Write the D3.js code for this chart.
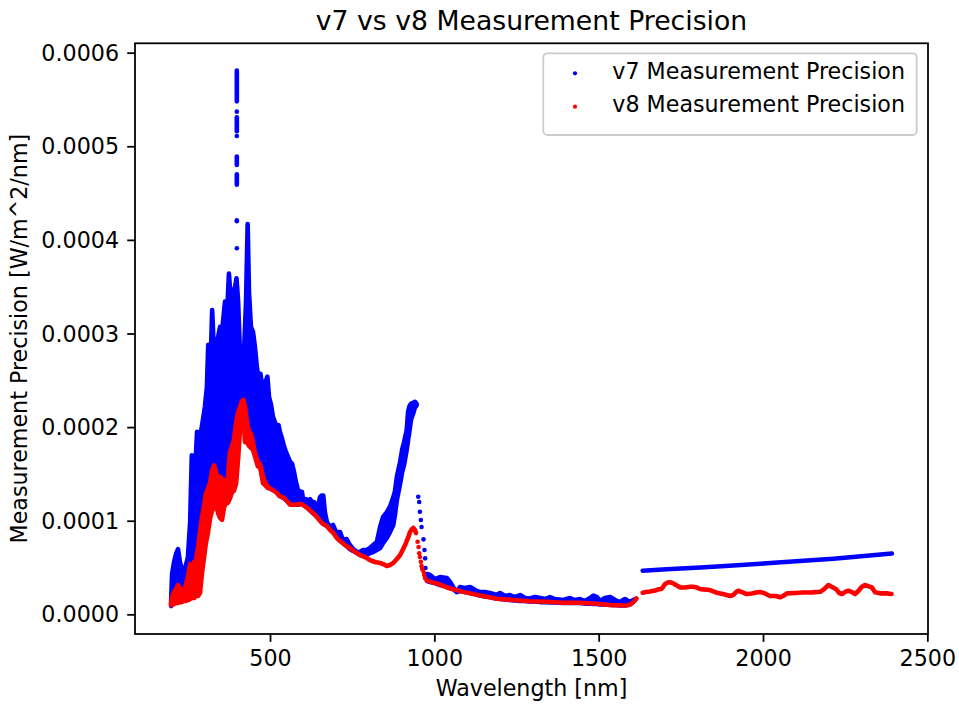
<!DOCTYPE html>
<html>
<head>
<meta charset="utf-8">
<script src="https://cdn.jsdelivr.net/npm/d3@7"></script>
<style>
  body { margin: 0; background: #fff; }
  text { font-family: "DejaVu Sans", sans-serif; fill: #000; }
</style>
</head>
<body>
<div id="chart-area"></div>
<script>
// values below are in units of 1e-5 W/m^2/nm
const unit = 1e-5;

// v7, UV-VIS part: per wavelength, lowest and highest value of the dense point cloud
const v7Wl1 = [199,202,208,214,220,226,232,238,244,250,257,262,266,272,278,284,290,296,302,308,
  312,318,324,330,336,342,348,354,358,363,369,375,381,387,394,398,403,409,415,421,
  427,432,436,442,448,454,460,467,471,476,482,488,492,497,503,509,515,521,526,530,
  537,543,549,555,561,567,573,579,585,591,597,603,610,616,622,628,634,642,646,652,
  657,662,667,673,683,692,701,713,722,733,743,753,765,774,783,794,804,814,825,835,
  844,855,865,875,880,886,896,902,908,916,920,924,929,936,941,946];
const v7Hi1 = [1.31,4.31,5.59,6.44,6.97,5.59,4.73,4.52,5.27,6.02,9.86,17.0,12.0,15.2,19.5,17.9,19.5,20.8,22.2,24.3,
  28.8,25.4,32.5,27.5,28.6,29.6,30.7,30.2,31.6,33.4,31.8,36.4,33.4,34.4,35.0,35.9,33.4,27.5,26.9,28.0,
  33.4,41.7,34.4,30.7,30.2,28.6,26.4,24.8,25.7,24.3,24.8,25.0,25.4,23.2,22.4,21.1,20.5,20.0,20.2,19.5,
  18.7,17.9,17.3,16.8,16.3,16.1,15.2,14.1,13.3,13.1,13.1,11.7,12.3,12.0,12.3,12.0,12.0,11.4,11.5,12.5,
  12.7,12.7,10.9,9.86,9.33,9.54,8.79,8.79,7.94,8.05,7.40,6.98,6.66,6.66,6.87,6.87,7.08,7.40,7.72,9.33,
  10.4,10.9,11.5,12.5,13.1,14.7,16.3,17.6,18.4,19.7,21.6,22.2,22.5,22.6,22.7,22.5];
const v7Lo1 = [0.89,1.10,1.96,2.38,2.81,2.60,2.28,2.38,2.81,3.66,5.16,4.95,5.16,5.59,5.59,6.66,8.15,10.07,11.36,12.75,
  13.07,13.82,15.2,15.6,15.1,14.35,14.6,14.35,14.2,13.9,14.1,15.4,17.0,17.8,19.0,20.8,21.5,22.1,22.6,22.6,
  21.6,20.4,19.4,19.0,18.3,17.3,16.5,16.0,15.7,14.8,14.2,13.8,13.6,13.5,13.4,13.3,13.2,13.1,12.85,12.75,
  12.5,12.4,12.2,12.0,11.8,11.7,11.7,11.7,11.7,11.8,11.8,11.7,11.5,11.3,11.1,10.9,10.7,10.5,10.3,10.1,
  9.86,9.75,9.65,9.43,9.11,8.79,8.37,7.94,7.62,7.30,6.98,6.76,6.55,6.34,6.23,6.34,6.55,6.66,6.87,7.08,
  7.62,8.15,8.79,9.54,10.6,12.2,14.0,15.2,16.0,17.6,18.6,19.5,20.8,21.5,22.1,22.3];

// v7 spike near 399 nm (broken column of points)
const v7SpikeWl = [399,399,399,399,399,399,399,399];
const v7SpikeLo = [54.8,53.7,51.6,51.1,48.0,45.9,42.0,39.1];
const v7SpikeHi = [58.1,53.7,53.1,51.1,48.9,47.0,42.1,39.1];

// v7 single points on the fall after the 930 nm peak
const v7DotWl = [951,954,956,959,961,967,970,972,973,975];
const v7DotVal = [12.56,12.0,10.96,10.07,9.33,8.01,6.87,5.98,4.95,4.31];

// v7, NIR part
const v7Wl2 = [978,987,1002,1017,1038,1048,1057,1068,1078,1093,1109,1124,1139,1154,1169,1190,1200,1215,1230,1245,
  1261,1276,1291,1306,1322,1337,1352,1367,1392,1413,1428,1443,1458,1474,1484,1495,1504,1519,1535,1550,
  1565,1580,1595,1611];
const v7Hi2 = [4.31,4.20,3.77,3.98,3.88,3.45,2.92,2.38,2.92,2.81,2.92,2.60,2.38,2.38,2.28,2.06,2.28,1.96,2.06,1.85,
  2.06,1.74,1.69,1.85,1.74,1.63,1.85,1.63,1.53,1.74,1.53,1.63,1.42,1.74,2.01,1.85,1.42,1.74,1.85,1.53,
  1.31,1.63,1.31,1.63];
const v7Lo2 = [3.56,3.45,3.34,3.13,2.97,2.81,2.71,2.38,2.49,2.38,2.28,2.17,2.01,1.90,1.85,1.69,1.63,1.58,1.53,1.47,
  1.42,1.42,1.37,1.37,1.31,1.31,1.26,1.26,1.21,1.21,1.21,1.21,1.15,1.15,1.10,1.10,1.05,1.05,0.99,0.99,
  0.96,0.96,1.05,1.53];

// v7, SWIR part
const v7Wl3 = [1634,1707,1809,1910,2011,2112,2214,2316,2392];
const v7Val3 = [4.66,4.81,5.00,5.21,5.45,5.69,5.94,6.26,6.50];

// v8, UV-VIS part
const v8Wl1 = [199,202,208,214,220,226,232,238,244,250,257,263,269,275,281,287,293,299,305,311,
  318,324,330,336,342,348,354,360,366,372,378,384,390,397,403,409,415,419,424,430,
  436,442,448,454,463,470,479,485,494,503,512,521,530,540,549,561,576,591,600,612,
  622,632,640,652,661,673,683,693,701,713,728,743,759,774,789,804,819,835,844,855,
  865,875,886,896,905,911,917,921,926,931,936,941,944];
const v8Hi1 = [1.21,1.85,2.38,2.70,3.13,2.81,2.38,2.60,3.13,3.98,5.37,5.05,5.59,5.80,7.19,8.79,10.4,11.5,12.9,13.4,
  14.1,15.4,15.9,15.2,14.3,14.7,14.5,14.3,13.9,14.7,17.3,17.9,18.6,20.5,21.6,22.2,22.8,22.9,22.2,20.5,
  19.5,19.3,18.4,17.3,16.3,16.0,14.7,14.1,13.6,13.4,13.2,12.96,12.6,12.5,12.2,11.7,11.7,11.8,11.7,11.4,
  11.1,10.8,10.5,10.0,9.65,9.43,9.01,8.69,8.26,7.83,7.40,7.08,6.66,6.34,6.12,5.80,5.59,5.48,5.37,5.16,
  5.27,5.48,5.91,6.34,6.98,7.40,7.94,8.26,8.79,9.06,9.22,9.01,8.69];
const v8Lo1 = [0.99,0.99,1.10,1.21,1.21,1.31,1.31,1.42,1.42,1.53,1.63,1.74,1.74,1.96,1.96,2.28,4.41,6.02,7.62,8.69,
  10.3,11.1,11.4,11.9,10.8,10.3,10.1,11.4,11.9,11.9,12.4,13.0,13.2,14.0,16.7,19.9,21.0,21.2,18.4,18.4,
  18.0,17.8,17.6,16.9,15.8,15.7,14.0,13.8,13.5,13.4,13.2,12.96,12.6,12.5,12.2,11.7,11.7,11.8,11.7,11.4,
  11.1,10.8,10.5,10.0,9.65,9.43,9.01,8.69,8.26,7.83,7.40,7.08,6.66,6.34,6.12,5.80,5.59,5.48,5.37,5.16,
  5.27,5.48,5.91,6.34,6.98,7.40,7.94,8.26,8.79,9.06,9.22,9.01,8.69];

const v8DotWl = [949,952,954,956,959,961,963,967,969,972];
const v8DotVal = [7.76,7.19,6.52,6.12,5.62,5.16,4.84,4.55,4.20,3.85];

const v8Wl2 = [977,987,1017,1048,1088,1139,1190,1239,1291,1342,1392,1443,1494,1520,1544,1565,1584,1596,1605,1615];
const v8Val2 = [3.61,3.50,3.18,2.76,2.40,2.01,1.67,1.53,1.40,1.34,1.24,1.24,1.13,1.05,0.97,0.97,0.94,1.05,1.29,1.69];

const v8Wl3 = [1634,1644,1656,1672,1681,1690,1696,1702,1712,1720,1727,1735,1748,1763,1778,1787,1799,1808,1818,1839,
  1859,1878,1900,1909,1918,1925,1936,1950,1966,1979,1991,2003,2021,2039,2052,2061,2073,2098,2122,2149,
  2174,2186,2199,2210,2223,2232,2240,2250,2260,2271,2280,2290,2300,2310,2320,2331,2341,2356,2376,2391];
const v8Val3 = [2.31,2.38,2.44,2.54,2.67,2.70,2.92,3.24,3.42,3.40,3.31,3.13,2.88,2.86,2.95,2.95,2.86,2.70,2.67,2.60,
  2.31,2.17,1.96,2.06,2.38,2.52,2.38,2.17,2.22,2.33,2.38,2.28,1.96,1.96,1.82,1.96,2.24,2.28,2.33,2.35,
  2.41,2.70,3.13,2.92,2.67,2.28,2.17,2.41,2.52,2.38,2.17,2.49,2.92,3.13,3.02,2.88,2.35,2.24,2.24,2.17];

const xTicks = [500, 1000, 1500, 2000, 2500];
const yTicks = [0, 0.0001, 0.0002, 0.0003, 0.0004, 0.0005, 0.0006];
const xLim = [89.2, 2502];
const yLim = [-0.000021, 0.00061];
const seriesNames = ["v7 Measurement Precision", "v8 Measurement Precision"];
const seriesColors = ["#0000ff", "#ff0000"];

const W = 959, H = 705;
const margin = { top: 43.3, right: 31, bottom: 71, left: 135 };
const width = W - margin.left - margin.right;
const height = H - margin.top - margin.bottom;
const dotSize = 4.6;
const fontSize = "22.2px";
const lineW = 1.78;

const svg = d3.select("#chart-area")
  .append("svg")
    .attr("width", W)
    .attr("height", H);

svg.append("rect").attr("width", W).attr("height", H).attr("fill", "#fff");

const g = svg.append("g")
  .attr("transform", `translate(${margin.left}, ${margin.top})`);

const x = d3.scaleLinear().domain(xLim).range([0, width]);
const y = d3.scaleLinear().domain(yLim).range([height, 0]);

const area = d3.area()
  .x(d => x(d.wl))
  .y0(d => y(d.lo * unit))
  .y1(d => y(d.hi * unit));

function band(wl, lo, hi, color) {
  const rows = wl.map((w, i) => ({ wl: w, lo: lo[i], hi: hi[i] }));
  g.append("path")
    .datum(rows)
    .attr("d", area)
    .attr("fill", color)
    .attr("stroke", color)
    .attr("stroke-width", dotSize)
    .attr("stroke-linejoin", "round");
}

function dots(wl, val, color) {
  g.append("g").selectAll("circle")
    .data(wl.map((w, i) => ({ wl: w, v: val[i] })))
    .enter()
    .append("circle")
      .attr("cx", d => x(d.wl))
      .attr("cy", d => y(d.v * unit))
      .attr("r", dotSize / 2)
      .attr("fill", color);
}

function streaks(wl, lo, hi, color) {
  g.append("g").selectAll("line")
    .data(wl.map((w, i) => ({ wl: w, lo: lo[i], hi: hi[i] })))
    .enter()
    .append("line")
      .attr("x1", d => x(d.wl))
      .attr("x2", d => x(d.wl))
      .attr("y1", d => y(d.lo * unit))
      .attr("y2", d => y(d.hi * unit))
      .attr("stroke", color)
      .attr("stroke-width", dotSize)
      .attr("stroke-linecap", "round");
}

// v7 first, v8 drawn on top
band(v7Wl1, v7Lo1, v7Hi1, seriesColors[0]);
streaks(v7SpikeWl, v7SpikeLo, v7SpikeHi, seriesColors[0]);
dots(v7DotWl, v7DotVal, seriesColors[0]);
band(v7Wl2, v7Lo2, v7Hi2, seriesColors[0]);
band(v7Wl3, v7Val3, v7Val3, seriesColors[0]);

band(v8Wl1, v8Lo1, v8Hi1, seriesColors[1]);
dots(v8DotWl, v8DotVal, seriesColors[1]);
band(v8Wl2, v8Val2, v8Val2, seriesColors[1]);
band(v8Wl3, v8Val3, v8Val3, seriesColors[1]);

// axes
const xAxisCall = d3.axisBottom(x)
  .tickValues(xTicks)
  .tickSize(7.8)
  .tickSizeOuter(0)
  .tickPadding(8.9)
  .tickFormat(d3.format("d"));

const yAxisCall = d3.axisLeft(y)
  .tickValues(yTicks)
  .tickSize(7.8)
  .tickSizeOuter(0)
  .tickPadding(8.2)
  .tickFormat(d3.format(".4f"));

const xg = g.append("g")
  .attr("class", "x-axis")
  .attr("transform", `translate(0, ${height})`)
  .call(xAxisCall);

const yg = g.append("g")
  .attr("class", "y-axis")
  .call(yAxisCall);

[xg, yg].forEach(a => {
  a.select(".domain").remove();
  a.selectAll(".tick line").attr("stroke", "#000").attr("stroke-width", lineW);
  a.selectAll(".tick text")
    .attr("font-size", fontSize)
    .attr("font-family", "DejaVu Sans")
    .attr("fill", "#000");
});
yg.selectAll(".tick text").attr("dy", "0.34em");

// frame
g.append("rect")
  .attr("width", width)
  .attr("height", height)
  .attr("fill", "none")
  .attr("stroke", "#000")
  .attr("stroke-width", lineW);

// labels
g.append("text")
  .attr("class", "x label")
  .attr("x", width / 2)
  .attr("y", height + 62)
  .attr("font-size", fontSize)
  .attr("text-anchor", "middle")
  .text("Wavelength [nm]");

g.append("text")
  .attr("class", "y label")
  .attr("x", -(height / 2))
  .attr("y", -108)
  .attr("font-size", fontSize)
  .attr("text-anchor", "middle")
  .attr("transform", "rotate(-90)")
  .text("Measurement Precision [W/m^2/nm]");

g.append("text")
  .attr("class", "title")
  .attr("x", width / 2)
  .attr("y", -13.5)
  .attr("font-size", "26.7px")
  .attr("text-anchor", "middle")
  .text("v7 vs v8 Measurement Precision");

// legend
const legend = g.append("g")
  .attr("transform", `translate(${543.3 - margin.left}, ${53.3 - margin.top})`);

legend.append("rect")
  .attr("width", 373.4)
  .attr("height", 81.7)
  .attr("rx", 4)
  .attr("fill", "#fff")
  .attr("fill-opacity", 0.8)
  .attr("stroke", "#cccccc")
  .attr("stroke-width", lineW);

const items = legend.selectAll(".item")
  .data(seriesNames)
  .enter()
  .append("g")
    .attr("class", "item")
    .attr("transform", (d, i) => `translate(0, ${20 + i * 33.4})`);

items.append("circle")
  .attr("cx", 31.7)
  .attr("cy", 0)
  .attr("r", 2.1)
  .attr("fill", (d, i) => seriesColors[i]);

items.append("text")
  .attr("x", 69)
  .attr("y", 5.4)
  .attr("font-size", fontSize)
  .text(d => d);
</script>
</body>
</html>
